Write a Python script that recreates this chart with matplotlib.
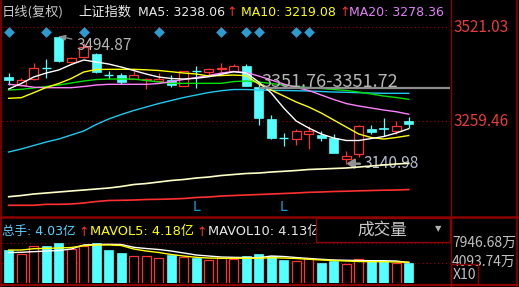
import matplotlib
matplotlib.use("Agg")
import matplotlib.pyplot as plt
from matplotlib.patches import Rectangle
from matplotlib.lines import Line2D

# === DATA ===
opens = [3382.7, 3359.6, 3375.5, 3407.0, 3492.0, 3422.8, 3436.7, 3445.9, 3388.0, 3387.5,
         3376.3, 3373.0, 3370.8, 3374.9, 3357.7, 3399.0, 3395.0, 3404.2, 3399.4, 3412.5,
         3354.1, 3266.4, 3213.5, 3208.5, 3222.5, 3220.5, 3211.3, 3152.9, 3167.0, 3237.4,
         3239.0, 3232.5, 3259.4]
highs = [3393.0, 3379.9, 3420.0, 3431.1, 3494.87, 3438.4, 3475.6, 3447.5, 3399.4, 3393.9,
         3399.4, 3379.0, 3393.0, 3387.5, 3398.6, 3413.3, 3407.8, 3421.7, 3418.1, 3417.2,
         3362.4, 3276.2, 3225.3, 3237.2, 3245.5, 3231.6, 3223.3, 3177.0, 3248.3, 3248.3,
         3267.0, 3259.4, 3271.4]
lows = [3359.6, 3356.8, 3373.5, 3378.3, 3424.5, 3422.0, 3436.0, 3394.0, 3376.3, 3361.6,
        3375.0, 3349.4, 3370.0, 3352.7, 3356.5, 3352.1, 3385.5, 3392.2, 3398.5, 3357.0,
        3248.3, 3208.5, 3190.7, 3192.6, 3180.7, 3203.8, 3169.6, 3140.98, 3160.0, 3223.3,
        3217.7, 3223.3, 3239.2]
closes = [3373.5, 3373.5, 3406.1, 3405.5, 3427.3, 3433.9, 3466.2, 3395.0, 3387.0, 3367.2,
          3387.5, 3375.5, 3377.7, 3359.6, 3397.8, 3398.0, 3403.3, 3407.0, 3412.5, 3358.2,
          3267.0, 3211.3, 3212.5, 3231.6, 3231.6, 3211.3, 3171.3, 3162.1, 3245.5, 3228.0,
          3237.0, 3245.5, 3250.3]

ma5 = [3348.5, 3363.8, 3381.9, 3393.0, 3401.4, 3416.7, 3429.2, 3423.6, 3418.0, 3409.7,
       3400.0, 3390.2, 3381.9, 3377.7, 3376.3, 3378.3, 3382.7, 3389.4, 3396.6, 3393.0,
       3368.0, 3337.4, 3295.6, 3259.4, 3240.0, 3223.3, 3212.1, 3205.2, 3205.2, 3210.7,
       3216.3, 3226.0, 3238.06]
ma10 = [3322.6, 3324.3, 3338.2, 3352.7, 3363.8, 3377.7, 3395.8, 3402.7, 3403.3, 3403.3,
        3403.3, 3401.9, 3400.0, 3396.6, 3393.0, 3390.2, 3384.7, 3386.0, 3387.4, 3385.5,
        3362.4, 3345.7, 3329.0, 3312.3, 3298.4, 3281.7, 3262.2, 3242.7, 3223.3, 3213.5,
        3209.3, 3213.5, 3219.08]
ma20 = [3361.6, 3358.2, 3353.5, 3352.1, 3352.1, 3352.1, 3355.4, 3359.6, 3361.6, 3361.6,
        3361.6, 3361.6, 3363.8, 3369.3, 3374.9, 3380.5, 3386.0, 3393.0, 3397.2, 3394.4,
        3384.7, 3373.5, 3362.4, 3352.7, 3344.3, 3331.8, 3319.3, 3308.1, 3301.2, 3295.6,
        3290.0, 3285.3, 3278.36]
ma30 = [3345.7, 3347.6, 3351.3, 3355.4, 3359.6, 3365.2, 3370.7, 3374.9, 3376.3, 3376.3,
        3376.3, 3372.1, 3368.0, 3364.3, 3364.3, 3364.3, 3364.3, 3364.3, 3369.3, 3370.7,
        3368.0, 3363.8, 3359.6, 3355.4, 3352.7, 3349.9, 3347.1, 3344.3, 3340.1, 3334.6,
        3329.0, 3324.8, 3319.8]
ma60 = [3173.2, 3181.5, 3191.3, 3201.0, 3209.3, 3220.5, 3231.6, 3249.7, 3265.0, 3277.5,
        3288.7, 3298.4, 3308.1, 3316.5, 3324.8, 3331.8, 3338.7, 3343.7, 3347.1, 3347.1,
        3345.7, 3344.9, 3344.3, 3343.7, 3342.9, 3341.5, 3340.1, 3339.3, 3338.2, 3337.3,
        3336.5, 3336.5, 3336.5]
ma120 = [3048.8, 3052.1, 3056.3, 3059.1, 3061.9, 3064.7, 3067.4, 3070.2, 3073.0, 3077.2,
         3082.7, 3085.5, 3089.7, 3093.9, 3096.7, 3100.8, 3103.6, 3107.8, 3110.6, 3113.4,
         3114.7, 3117.5, 3119.5, 3121.7, 3124.5, 3125.9, 3127.3, 3128.7, 3131.4, 3134.2,
         3137.0, 3139.8, 3141.7]
ma250 = [3024.9, 3024.9, 3024.9, 3027.6, 3027.6, 3028.5, 3031.3, 3035.4, 3038.2, 3038.8,
         3039.6, 3041.0, 3041.6, 3042.4, 3043.8, 3046.6, 3048.0, 3050.7, 3052.1, 3053.5,
         3054.9, 3056.3, 3057.7, 3059.1, 3061.0, 3061.9, 3063.3, 3064.1, 3065.2, 3066.0,
         3066.9, 3067.4, 3068.8]

# volume in 亿手
vol = [6.61, 5.76, 7.35, 7.41, 8.04, 6.90, 7.40, 8.04, 6.61, 6.05,
       5.42, 5.42, 4.97, 5.70, 5.16, 5.08, 4.63, 4.97, 4.77, 5.42,
       5.82, 5.42, 4.63, 4.43, 4.97, 4.09, 4.43, 3.83, 4.77, 4.43,
       4.43, 4.09, 4.03]
mavol5 = [6.61, 6.61, 6.87, 6.95, 7.01, 7.11, 7.47, 7.61, 7.61, 7.51,
          6.81, 6.41, 6.12, 5.72, 5.42, 5.16, 5.02, 4.97, 4.97, 4.97,
          4.97, 5.08, 5.02, 4.93, 4.77, 4.63, 4.53, 4.43, 4.33, 4.29,
          4.29, 4.23, 4.18]
mavol10 = [6.08, 6.16, 6.28, 6.41, 6.51, 6.81, 7.61, 7.71, 7.75, 7.71,
           7.15, 6.91, 6.71, 6.41, 6.02, 5.62, 5.42, 5.22, 5.16, 5.12,
           5.08, 5.42, 5.32, 5.12, 4.93, 4.77, 4.63, 4.57, 4.53, 4.49,
           4.49, 4.43, 4.13]

signal_days = [0, 3, 6, 12, 17, 19, 20, 23, 24]   # blue diamonds
low_days = [15, 22]                               # "L" marks
price_grid = [3521.03, 3259.46]
vol_grid = [7.94668, 4.09374]
hi_idx, lo_idx = 4, 27
level_idx, level_price = 20, 3351.74

# === STYLE ===
W, H = 519, 287
UP = "#ff3232"
DOWN = "#54ffff"
FRAME = "#8c0000"
GRID = "#a00000"
CJK = ['Noto Sans CJK SC', 'DejaVu Sans']
LAT = ['DejaVu Sans', 'Noto Sans CJK SC']
plt.rcParams['font.family'] = LAT

fig = plt.figure(figsize=(W / 100, H / 100), dpi=100, facecolor="black")


def fbox(x0, y0, x1, y1):
    return [x0 / W, 1 - y1 / H, (x1 - x0) / W, (y1 - y0) / H]


def ptext(x, y, s, **kw):
    kw.setdefault("va", "center")
    return fig.text(x / W, 1 - y / H, s, **kw)


def pline(x0, y0, x1, y1, lw=1.0, color=FRAME):
    fig.add_artist(Line2D([x0 / W, x1 / W], [1 - y0 / H, 1 - y1 / H], color=color, lw=lw))


XLIM = (-0.536, 35.3)
n = len(closes)
xs = list(range(n))

# === PRICE PANEL ===
ax = fig.add_axes(fbox(2, 0, 450, 216))
ax.set_xlim(*XLIM)
ax.set_ylim(2995.1, 3596.2)
ax.axis("off")

for p in price_grid:
    ax.axhline(p, color=GRID, lw=0.8, ls=(0, (1, 2.5)))

bw = 0.72
for i in xs:
    o, h, l, c = opens[i], highs[i], lows[i], closes[i]
    if c >= o:
        col = UP
        ax.vlines(i, l, o, color=col, lw=0.9)
        ax.vlines(i, c, h, color=col, lw=0.9)
        if c - o < 2:
            ax.hlines(o, i - bw / 2, i + bw / 2, color=col, lw=1.0)
        else:
            ax.add_patch(Rectangle((i - bw / 2, o), bw, c - o, facecolor="black",
                                   edgecolor=col, lw=0.9, zorder=3))
    else:
        col = DOWN
        ax.vlines(i, l, h, color=col, lw=0.9)
        if o - c < 2:
            ax.hlines(o, i - bw / 2, i + bw / 2, color=col, lw=1.0)
        else:
            ax.add_patch(Rectangle((i - bw / 2, c), bw, o - c, facecolor=col,
                                   edgecolor=col, lw=0.5, zorder=3))

ax.plot(xs, ma250, color="#ff3030", lw=1.2, zorder=4)
ax.plot(xs, ma120, color="#ffffc8", lw=1.2, zorder=4)
ax.plot(xs, ma60, color="#20c8f0", lw=1.0, zorder=4)
ax.plot(xs, ma30, color="#00e000", lw=1.0, zorder=4)
ax.plot(xs, ma20, color="#ff80ff", lw=1.0, zorder=4)
ax.plot(xs, ma10, color="#ffff00", lw=1.0, zorder=4)
ax.plot(xs, ma5, color="#ffffff", lw=1.0, zorder=4)

ax.scatter(signal_days, [3507.1] * len(signal_days), marker="D", s=30,
           color="#2b9bd0", zorder=5, linewidths=0)
for d in low_days:
    ax.text(d, 3020, "L", color="#1aa0d0", fontsize=10, ha="center", va="center")

# level line
ax.hlines(level_price, level_idx, XLIM[1], color="#8c8c8c", lw=1.6, zorder=5)
ax.text(level_idx + 0.25, level_price + 2, "3351.76-3351.72", color="#b4b4b4",
        fontsize=13, family=CJK, ha="left", va="baseline", zorder=6)

ax.annotate(f"{highs[hi_idx]:.2f}", xy=(hi_idx, highs[hi_idx]), xytext=(12.5, -6.5),
            textcoords="offset points", color="#b4b4b4", fontsize=11, family=CJK,
            ha="left", va="center",
            arrowprops=dict(arrowstyle="-|>,head_length=0.35,head_width=0.15",
                            color="#909090", lw=0.9, shrinkA=1, shrinkB=0))
ax.annotate(f"{lows[lo_idx]:.2f}", xy=(lo_idx, lows[lo_idx]), xytext=(12.8, -0.3),
            textcoords="offset points", color="#b4bccc", fontsize=11, family=CJK,
            ha="left", va="center",
            arrowprops=dict(arrowstyle="-|>,head_length=0.4,head_width=0.25",
                            color="#909090", lw=1.8, shrinkA=1, shrinkB=0))

# header of price panel
ptext(2, 12, "日线(复权)", color="#c8c8c8", fontsize=9.5, family=CJK)
ptext(78, 12, "上证指数", color="#e8e8e8", fontsize=9.5, family=CJK)
ptext(138, 12, "MA5: 3238.06", color="#e8e8e8", fontsize=9)
ptext(226, 12, "↑", color="#ff3030", fontsize=9)
ptext(241, 12, "MA10: 3219.08", color="#ffff00", fontsize=9)
ptext(339, 12, "↑", color="#ff3030", fontsize=9)
t = ptext(349, 12, "MA20: 3278.36", color="#e080f8", fontsize=9)
t.set_clip_box(ax.bbox)

# === VOLUME PANEL ===
vax = fig.add_axes(fbox(2, 218, 450, 283.3))
vax.set_xlim(*XLIM)
vax.set_ylim(0, 12.97)
vax.axis("off")
for v in vol_grid:
    vax.axhline(v, color=GRID, lw=0.8, ls=(0, (1, 2.5)))
for i in xs:
    if closes[i] >= opens[i]:
        vax.add_patch(Rectangle((i - bw / 2, 0), bw, vol[i], facecolor="black",
                                edgecolor=UP, lw=0.9, zorder=3))
    else:
        vax.add_patch(Rectangle((i - bw / 2, 0), bw, vol[i], facecolor=DOWN,
                                edgecolor=DOWN, lw=0.5, zorder=3))
vax.plot(xs, mavol10, color="#ffffff", lw=1.0, zorder=4)
vax.plot(xs, mavol5, color="#ffff00", lw=1.0, zorder=4)

ptext(2, 232, "总手: 4.03亿", color="#5ad2ff", fontsize=9)
ptext(78.5, 232, "↑", color="#ff3030", fontsize=9)
ptext(90, 232, "MAVOL5: 4.18亿", color="#ffff00", fontsize=9.4)
ptext(196, 232, "↑", color="#ff3030", fontsize=9)
ptext(208, 232, "MAVOL10: 4.13亿", color="#e8e8e8", fontsize=9.4)

fig.add_artist(Rectangle((316 / W, 1 - 241.5 / H), (450 - 316) / W, 23.5 / H,
                         transform=fig.transFigure, facecolor="black",
                         edgecolor=FRAME, lw=1.0, zorder=5))
ptext(382, 230, "成交量", color="#c8c8c8", fontsize=12, family=CJK, ha="center", zorder=6)
ptext(438, 229, "▼", color="#b0b0b0", fontsize=6, ha="center", zorder=6)

# === RIGHT SCALE ===
ptext(454, 27, "3521.03", color="#e63c3c", fontsize=11, family=CJK)
ptext(454, 121, "3259.46", color="#e63c3c", fontsize=11, family=CJK)
ptext(452, 243, "7946.68万", color="#c0c0c0", fontsize=10, family=CJK)
ptext(452, 262, "4093.74万", color="#c0c0c0", fontsize=10, family=CJK)
fig.add_artist(Rectangle((451 / W, 1 - 284 / H), 27 / W, 20 / H, transform=fig.transFigure,
                         facecolor="none", edgecolor=FRAME, lw=1.0, zorder=5))
ptext(453, 275, "X10", color="#c0c0c0", fontsize=10, family=CJK)

# === FRAME ===
pline(0.8, 0, 0.8, H, lw=1.2)
pline(450.5, 0, 450.5, H, lw=1.0)
pline(517, 0, 517, H, lw=1.2)
pline(0, 217, 517, 217, lw=1.8)
pline(0, 285, 517, 285, lw=1.6)

fig.savefig("out.png", dpi=100, facecolor="black")
